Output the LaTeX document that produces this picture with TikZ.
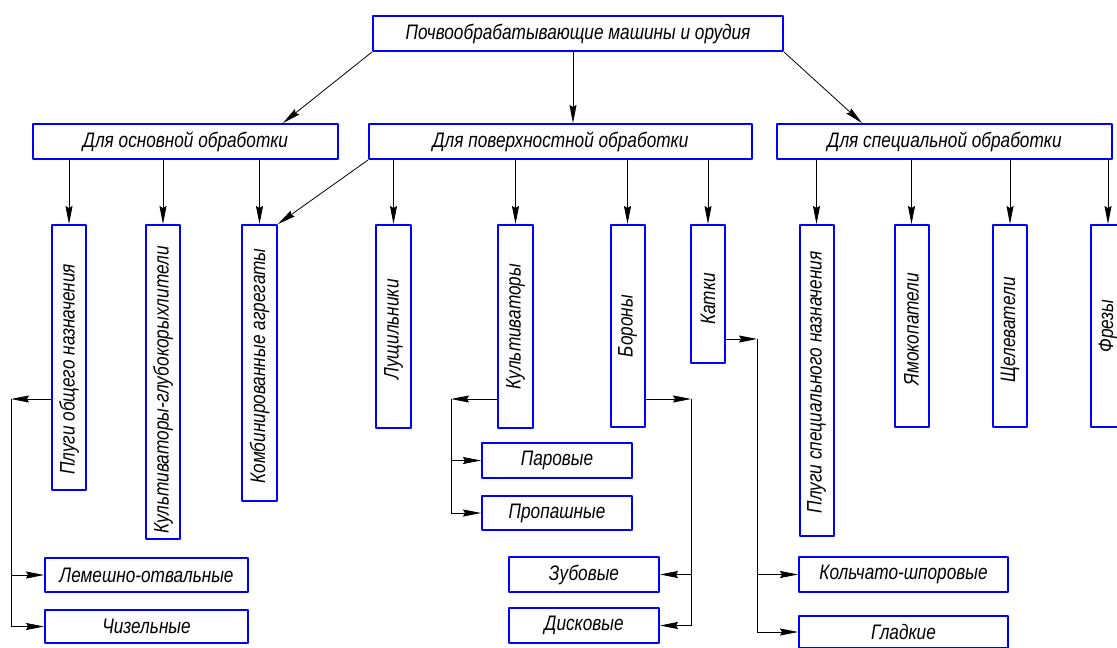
\documentclass[tikz,border=0pt]{standalone}
\usepackage{fontspec}
\usepackage{graphicx}
\setmainfont{Liberation Sans}[FakeStretch=0.82]
\usetikzlibrary{arrows.meta}
\definecolor{boxblue}{RGB}{0,0,255}
\tikzset{
  box/.style={draw=boxblue, line width=2pt, line join=round, fill=white, inner sep=0pt, font=\fontsize{21}{23}\selectfont\itshape},
  conn/.style={line width=0.8pt, draw=black},
  arr/.style={conn, -{Stealth[length=18pt,width=7pt,inset=2pt]}},
}
% rotated text; optional argument moves it down inside its box
\newcommand{\vt}[2][0pt]{\rotatebox{90}{#2\hspace*{#1}}}
\begin{document}
\begin{tikzpicture}[x=1pt,y=-1pt]
\useasboundingbox[fill=white] (0,0) rectangle (1117,648);
% top
\node[box, minimum width=410, minimum height=35] (root) at (578,33.5) {Почвообрабатывающие машины и орудия};
% level 2
\node[box, minimum width=305, minimum height=35] (osn) at (185.5,141.5) {Для основной обработки};
\node[box, minimum width=383, minimum height=35] (pov) at (560.5,141.5) {Для поверхностной обработки};
\node[box, minimum width=335, minimum height=35] (spec) at (944.5,141.5) {Для специальной обработки};
% level 3
\node[box, minimum width=34, minimum height=265] (p1) at (69,357.5) {\vt[24pt]{Плуги общего назначения}};
\node[box, minimum width=34, minimum height=314] (p2) at (163,382) {\vt[16pt]{Культиваторы-глубокорыхлители}};
\node[box, minimum width=35, minimum height=276] (p3) at (259.5,363) {\vt[6pt]{Комбинированные агрегаты}};
\node[box, minimum width=35, minimum height=203] (p4) at (393.5,326.5) {\vt[6pt]{Лущильники}};
\node[box, minimum width=35, minimum height=203] (p5) at (515.5,326.5) {\vt{Культиваторы}};
\node[box, minimum width=34, minimum height=202] (p6) at (627.5,326) {\vt{Бороны}};
\node[box, minimum width=34, minimum height=138] (p7) at (708,294) {\vt[10pt]{Катки}};
\node[box, minimum width=34, minimum height=311] (p8) at (816.5,380.5) {\vt[4pt]{Плуги специального назначения}};
\node[box, minimum width=34, minimum height=202] (p9) at (911.5,326) {\vt[6pt]{Ямокопатели}};
\node[box, minimum width=34, minimum height=202] (p10) at (1010,326) {\vt[8pt]{Щелеватели}};
\node[box, minimum width=34, minimum height=202] (p11) at (1108,326) {\vt{Фрезы}};
% level 4
\node[box, minimum width=203, minimum height=34] (lem) at (146.5,575) {Лемешно-отвальные};
\node[box, minimum width=203, minimum height=33] (chiz) at (146.5,626.5) {Чизельные};
\node[box, minimum width=150, minimum height=35] (par) at (557,460.5) {Паровые};
\node[box, minimum width=150, minimum height=34] (prop) at (557,513) {Пропашные};
\node[box, minimum width=150, minimum height=35] (zub) at (584,574.5) {Зубовые};
\node[box, minimum width=150, minimum height=35] (disk) at (584,625.5) {Дисковые};
\node[box, minimum width=209, minimum height=35] (kol) at (903.5,574.5) {Кольчато-шпоровые};
\node[box, minimum width=209, minimum height=32] (glad) at (903.5,632) {Гладкие};
% junctions
\coordinate (j1) at (11,399);
\coordinate (j2) at (451,399);
\coordinate (j3) at (691,399);
\coordinate (j4) at (757,339);
% root connectors
\draw[arr] (root.south west) -- ([xshift=97.5pt]osn.north);
\draw[arr] ([xshift=-5pt]root.south) -- ([xshift=-5pt]root.south |- pov.north);
\draw[arr] (root.south east) -- ([xshift=-82.5pt]spec.north);
% level 2 -> 3
\draw[arr] (p1.north |- osn.south) -- (p1.north);
\draw[arr] (p2.north |- osn.south) -- (p2.north);
\draw[arr] (p3.north |- osn.south) -- (p3.north);
\draw[arr] (pov.south west) -- (p3.north east);
\draw[arr] (p4.north |- pov.south) -- (p4.north);
\draw[arr] (p5.north |- pov.south) -- (p5.north);
\draw[arr] (p6.north |- pov.south) -- (p6.north);
\draw[arr] (p7.north |- pov.south) -- (p7.north);
\draw[arr] (p8.north |- spec.south) -- (p8.north);
\draw[arr] (p9.north |- spec.south) -- (p9.north);
\draw[arr] (p10.north |- spec.south) -- (p10.north);
\draw[arr] (p11.north |- spec.south) -- (p11.north);
% branches
\draw[arr] (p1.west |- j1) -- (j1);
\draw[arr] (j1) |- (lem.west);
\draw[arr] (j1) |- (chiz.west);
\draw[arr] (p5.west |- j2) -- (j2);
\draw[arr] (j2) |- (par.west);
\draw[arr] (j2) |- (prop.west);
\draw[arr] (p6.east |- j3) -- (j3);
\draw[arr] (j3) |- (zub.east);
\draw[arr] (j3) |- (disk.east);
\draw[arr] (p7.east |- j4) -- (j4);
\draw[arr] (j4) |- (kol.west);
\draw[arr] (j4) |- (glad.west);
\end{tikzpicture}
\end{document}
